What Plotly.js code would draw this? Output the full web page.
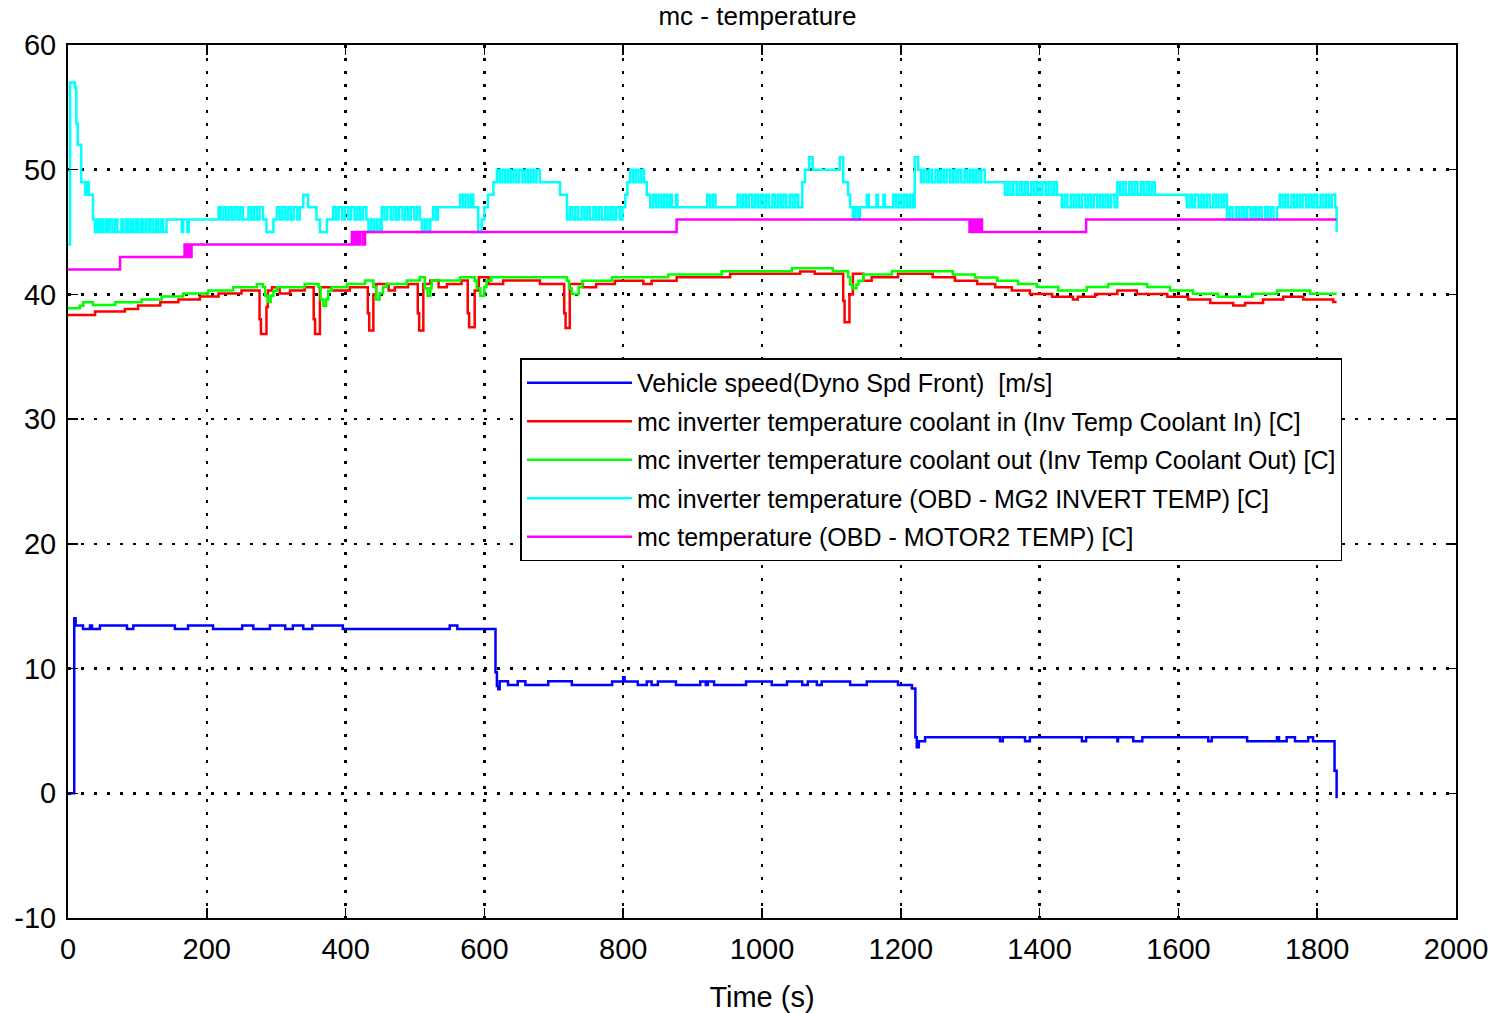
<!DOCTYPE html>
<html>
<head>
<meta charset="utf-8">
<script src="https://cdn.plot.ly/plotly-3.0.1.min.js"></script>
<style>html,body{margin:0;padding:0;background:#fff;}#chart{width:1491px;height:1013px;}</style>
</head>
<body>
<div id="chart"></div>
<script>
// ---- data (time [s], value) ----
const seriesNames = [
  "Vehicle speed(Dyno Spd Front)  [m/s]",
  "mc inverter temperature coolant in (Inv Temp Coolant In) [C]",
  "mc inverter temperature coolant out (Inv Temp Coolant Out) [C]",
  "mc inverter temperature (OBD - MG2 INVERT TEMP) [C]",
  "mc temperature (OBD - MOTOR2 TEMP) [C]"
];
const seriesColors = ["#0000ff", "#ff0000", "#00ff00", "#00ffff", "#ff00ff"];

const speedPts = [[0,0],[6,0],[9,14.03],[11,13.45],[21.6,13.18],[31.7,13.45],[34.6,13.18],[46,13.45],[85,13.18],[94,13.45],[154,13.18],[173,13.45],[209,13.18],[251,13.45],[267,13.18],[291,13.45],[313,13.18],[324,13.45],[339,13.18],[352,13.45],[396,13.18],[550,13.45],[561,13.18],[612,13.18],[616,9.7],[618,8.6],[620,8.35],[622,8.98],[634,8.69],[648,8.98],[659,8.69],[692,8.98],[726,8.69],[784,8.96],[800,9.3],[802,8.96],[821,8.69],[834,8.96],[841,8.69],[850,8.96],[876,8.69],[911,8.96],[919,8.69],[922,8.96],[931,8.69],[977,8.96],[1014,8.69],[1036,8.96],[1058,8.69],[1066,8.96],[1079,8.69],[1086,8.96],[1127,8.69],[1151,8.96],[1196,8.69],[1216,8.4],[1219,8.4],[1221,4.5],[1223,3.7],[1226,4.17],[1235,4.49],[1343,4.17],[1347,4.49],[1379,4.17],[1386,4.49],[1461,4.17],[1467,4.49],[1512,4.17],[1513,4.49],[1535,4.17],[1548,4.49],[1643,4.17],[1648,4.49],[1699,4.17],[1742,4.49],[1745,4.17],[1756,4.49],[1768,4.17],[1787,4.49],[1794,4.17],[1823,4.17],[1825,1.8],[1828,-0.4]];

const coolantInPts = [[0,38.36],[39,38.63],[82,38.84],[101,39.11],[133,39.37],[159,39.59],[190,39.83],[217,40.07],[250,40.31],[274,40.31],[276,38.0],[278,36.83],[283,36.83],[286,39.0],[288,40.31],[294,40.58],[305,40.07],[320,40.31],[341,40.58],[352,40.58],[354,38.0],[356,36.83],[361,36.83],[363,40.58],[380,40.31],[406,40.58],[430,40.58],[432,38.5],[434,37.1],[438,37.1],[440,40.0],[444,40.84],[462,40.31],[471,40.58],[490,40.84],[502,40.84],[504,38.5],[506,37.1],[510,37.1],[512,40.84],[522,41.11],[534,40.58],[546,40.84],[567,41.11],[574,41.11],[576,38.5],[578,37.37],[583,37.37],[586,40.31],[592,41.38],[598,41.38],[606,40.84],[627,41.11],[680,40.84],[713,40.84],[715,38.5],[717,37.3],[721,37.3],[723,40.84],[742,40.58],[761,40.84],[788,41.1],[829,40.84],[841,41.1],[877,41.38],[954,41.65],[1055,41.84],[1076,41.65],[1115,41.65],[1117,39.5],[1119,37.77],[1123,37.77],[1126,40.0],[1131,41.65],[1146,41.1],[1158,41.38],[1196,41.65],[1246,41.38],[1278,41.1],[1310,40.84],[1336,40.58],[1360,40.31],[1386,40.04],[1418,39.82],[1448,39.6],[1455,39.82],[1480,40.04],[1512,40.31],[1540,40.04],[1584,39.82],[1614,39.59],[1646,39.32],[1679,39.11],[1696,39.32],[1722,39.59],[1751,39.82],[1780,39.59],[1823,39.4],[1828,39.4]];

const coolantOutPts = [[0,38.9],[17,39.1],[22,39.37],[36,39.16],[68,39.37],[106,39.59],[135,39.83],[166,40.07],[202,40.31],[238,40.58],[272,40.84],[281,40.6],[284,39.9],[288,39.4],[292,39.9],[296,40.3],[301,40.58],[341,40.84],[361,40.6],[364,39.6],[368,39.1],[372,39.6],[375,40.3],[380,40.58],[402,40.84],[428,41.11],[440,40.6],[444,39.6],[449,40.1],[454,40.6],[459,40.84],[488,41.11],[507,41.38],[514,40.5],[518,39.9],[522,40.5],[524,41.11],[565,41.38],[586,41.1],[589,40.5],[594,39.9],[600,40.6],[603,41.1],[610,41.38],[719,41.1],[722,40.5],[726,40.04],[733,40.04],[736,40.6],[741,41.1],[784,41.38],[865,41.6],[942,41.86],[1043,42.1],[1102,41.86],[1124,41.4],[1127,40.8],[1130,40.5],[1133,40.5],[1136,40.8],[1139,41.1],[1146,41.6],[1187,41.86],[1275,41.6],[1307,41.35],[1339,41.1],[1369,40.84],[1396,40.6],[1427,40.31],[1468,40.6],[1499,40.84],[1555,40.6],[1588,40.31],[1621,40.05],[1657,39.82],[1707,40.05],[1742,40.31],[1790,40.05],[1828,40.05]];

const invTempPts = [[0,44],[3,57],[10,56.6],[12,53.7],[14,52],[17,52],[19,49],[23,49],[25,48],[28,49],[30,48],[34,48],[36,46],[39,45],[42,46],[45,45],[48,46],[51,45],[55,46],[57,45],[60,46],[64,45],[68,46],[71,45],[77,46],[80,45],[84,46],[87,45],[91,46],[94,45],[98,46],[101,45],[105,46],[108,45],[112,46],[116,45],[119,46],[123,45],[127,46],[130,45],[134,46],[137,45],[142,46],[164,45],[166,46],[172,45],[174,46],[217,47],[220,46],[224,47],[228,46],[232,47],[236,46],[240,47],[244,46],[248,47],[252,46],[260,47],[264,46],[268,47],[272,46],[276,47],[281,46],[286,45],[296,46],[301,47],[305,46],[309,47],[313,46],[317,47],[321,46],[325,47],[330,46],[334,47],[339,48],[346,47],[358,46],[363,45],[373,46],[382,47],[386,46],[390,47],[395,46],[399,47],[404,46],[408,47],[413,46],[417,47],[421,46],[425,47],[430,46],[433,45],[437,46],[441,45],[445,46],[449,45],[452,47],[456,46],[460,47],[465,46],[469,47],[473,46],[477,47],[482,46],[486,47],[490,46],[494,47],[499,46],[503,47],[507,46],[510,45],[514,46],[518,45],[522,46],[526,47],[530,46],[533,47],[565,48],[569,47],[573,48],[577,47],[581,48],[584,47],[591,45],[596,46],[600,47],[605,48],[613,49],[618,50],[622,49],[626,50],[630,49],[634,50],[638,49],[642,50],[646,49],[650,50],[655,49],[659,50],[663,49],[667,50],[671,49],[675,50],[680,49],[709,48],[719,46],[723,47],[727,46],[731,47],[735,46],[740,47],[744,46],[748,47],[752,46],[757,47],[761,46],[765,47],[769,46],[774,47],[778,46],[782,47],[786,46],[790,47],[795,46],[799,47],[803,48],[806,49],[810,50],[814,49],[818,50],[822,49],[826,50],[830,49],[834,48],[839,47],[843,48],[847,47],[851,48],[855,47],[859,48],[863,47],[867,48],[870,47],[876,48],[878,47],[921,48],[925,47],[929,48],[933,47],[965,48],[969,47],[973,48],[977,47],[981,48],[986,47],[990,48],[994,47],[998,48],[1002,47],[1006,48],[1010,47],[1015,48],[1019,47],[1023,48],[1027,47],[1031,48],[1035,47],[1040,48],[1044,47],[1048,48],[1052,47],[1058,49],[1062,50],[1068,51],[1073,50],[1112,51],[1117,49],[1124,48],[1127,47],[1131,46],[1134,47],[1138,46],[1141,47],[1151,48],[1154,47],[1165,48],[1167,47],[1175,48],[1177,47],[1189,48],[1193,47],[1197,48],[1201,47],[1205,48],[1209,47],[1213,48],[1217,47],[1220,51],[1225,50],[1229,49],[1233,50],[1237,49],[1241,50],[1245,49],[1250,50],[1254,49],[1258,50],[1262,49],[1266,50],[1271,49],[1275,50],[1279,49],[1283,50],[1287,49],[1292,50],[1296,49],[1300,50],[1304,49],[1308,50],[1312,49],[1316,50],[1321,49],[1350,48],[1354,49],[1358,48],[1362,49],[1367,48],[1371,49],[1375,48],[1379,49],[1383,48],[1388,49],[1392,48],[1396,49],[1400,48],[1404,49],[1409,48],[1413,49],[1417,48],[1421,49],[1425,48],[1432,47],[1436,48],[1440,47],[1445,48],[1449,47],[1453,48],[1457,47],[1461,48],[1466,47],[1470,48],[1474,47],[1478,48],[1483,47],[1487,48],[1491,47],[1495,48],[1499,47],[1503,48],[1508,47],[1512,49],[1516,48],[1520,49],[1524,48],[1529,49],[1533,48],[1537,49],[1541,48],[1546,49],[1550,48],[1554,49],[1558,48],[1562,49],[1566,48],[1612,47],[1616,48],[1620,47],[1624,48],[1629,47],[1633,48],[1637,47],[1641,48],[1645,47],[1650,48],[1654,47],[1658,48],[1662,47],[1666,48],[1670,46],[1674,47],[1678,46],[1683,47],[1687,46],[1691,47],[1695,46],[1699,47],[1704,46],[1708,47],[1712,46],[1716,47],[1720,46],[1725,47],[1729,46],[1733,47],[1737,46],[1742,47],[1746,48],[1750,47],[1754,48],[1758,47],[1763,48],[1767,47],[1771,48],[1775,47],[1779,48],[1784,47],[1788,48],[1792,47],[1796,48],[1800,47],[1805,48],[1809,47],[1813,48],[1817,47],[1821,48],[1826,47],[1828,45]];

const motorTempPts = [[0,42],[75,43],[166,43],[168,44],[170,43],[173,44],[176,43],[178,44],[406,44],[409,45],[412,44],[415,45],[418,44],[421,45],[425,44],[428,45],[875,45],[877,46],[1297,46],[1299,45],[1302,46],[1305,45],[1308,46],[1311,45],[1314,46],[1317,45],[1465,45],[1467,46],[1828,46]];

const xTicks = [0,200,400,600,800,1000,1200,1400,1600,1800,2000];
const yTicks = [-10,0,10,20,30,40,50,60];
const chartTitle = "mc - temperature";
const xTitle = "Time (s)";

// ---- build traces ----
const allPts = [speedPts, coolantInPts, coolantOutPts, invTempPts, motorTempPts];
const traces = allPts.map((pts, i) => ({
  type: "scatter",
  mode: "lines",
  name: seriesNames[i],
  legendgroup: "g" + i,
  x: pts.map(p => p[0]),
  y: pts.map(p => p[1]),
  line: {color: seriesColors[i], width: 2.5, shape: "hv"}
}));

const FONT = "Liberation Sans, Arial, sans-serif";
const axisCommon = {
  showline: true, linecolor: "#000", linewidth: 2, mirror: "ticks",
  ticks: "inside", ticklen: 10, tickwidth: 1.5, tickcolor: "#000",
  showgrid: true, gridcolor: "#000", gridwidth: 2.5, griddash: "3px,10px",
  zeroline: false,
  tickfont: {family: FONT, size: 29, color: "#000"}
};

const layout = {
  width: 1491, height: 1013,
  paper_bgcolor: "#fff", plot_bgcolor: "#fff",
  margin: {l: 68, r: 35, t: 45, b: 95, pad: 0},
  showlegend: true,
  title: {text: chartTitle, font: {family: FONT, size: 26, color: "#000"},
          x: 0.508, xanchor: "center", yref: "container", y: 0.975, yanchor: "bottom"},
  xaxis: Object.assign({}, axisCommon, {
    range: [0, 2000], tickvals: xTicks, ticktext: xTicks.map(String),
    ticklabelstandoff: 4,
    title: {text: xTitle, font: {family: FONT, size: 29, color: "#000"}, standoff: 26}
  }),
  yaxis: Object.assign({}, axisCommon, {
    range: [-10, 60], tickvals: yTicks, ticktext: yTicks.map(String),
    ticklabelstandoff: 4
  }),
  legend: {
    x: 0.326, y: 0.641, xanchor: "left", yanchor: "top",
    bgcolor: "#fff", bordercolor: "#000", borderwidth: 1.5,
    font: {family: FONT, size: 25, color: "#000"},
    tracegroupgap: 3, traceorder: "grouped", itemwidth: 105
  }
};

Plotly.newPlot("chart", traces, layout, {displayModeBar: false, staticPlot: true});
</script>
</body>
</html>
